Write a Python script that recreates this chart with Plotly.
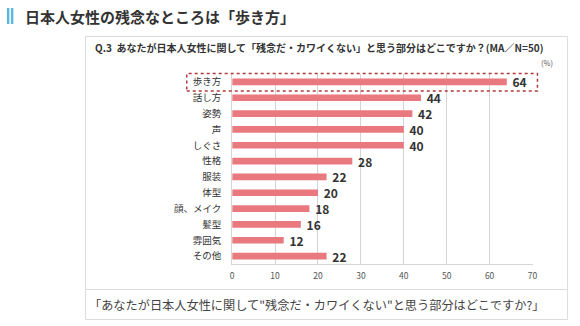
import plotly.graph_objects as go

categories = ["歩き方", "話し方", "姿勢", "声", "しぐさ", "性格", "服装", "体型", "顔、メイク", "髪型", "雰囲気", "その他"]
values = [64, 44, 42, 40, 40, 28, 22, 20, 18, 16, 12, 22]
x_ticks = [0, 10, 20, 30, 40, 50, 60, 70]

W, H = 580, 326
FONT = "Noto Sans CJK JP"

def px(x):
    return x / W

def py(y):
    return 1 - y / H

fig = go.Figure()
fig.add_trace(go.Bar(
    x=values, y=categories, orientation="h",
    marker=dict(color="#E9787F", line=dict(width=0)),
    width=0.42,
    texttemplate="\u00a0%{x}", textposition="outside",
    constraintext="none",
    textfont=dict(family=FONT, size=12, color="#333333", weight="bold"),
    cliponaxis=False, hoverinfo="skip",
))

shapes = []
# title blue bars
shapes.append(dict(type="rect", xref="paper", yref="paper", x0=px(5), x1=px(7.5), y0=py(24), y1=py(8), fillcolor="#5DB6DD", line=dict(width=0)))
shapes.append(dict(type="rect", xref="paper", yref="paper", x0=px(9), x1=px(11.5), y0=py(24), y1=py(8), fillcolor="#5DB6DD", line=dict(width=0)))
# chart box
shapes.append(dict(type="rect", xref="paper", yref="paper", x0=px(84.5), x1=px(572.5), y0=py(319.5), y1=py(36.5), line=dict(color="#dcdcdc", width=1), layer="below"))
shapes.append(dict(type="line", xref="paper", yref="paper", x0=px(84.5), x1=px(572.5), y0=py(289.5), y1=py(289.5), line=dict(color="#dcdcdc", width=1)))
# highlight dotted box
shapes.append(dict(type="rect", xref="paper", yref="paper", x0=px(187), x1=px(542), y0=py(91), y1=py(73.5), line=dict(color="#B03A3A", width=1.5, dash="dot")))

annotations = [
    dict(text="<b>日本人女性の残念なところは「歩き方」</b>", xref="paper", yref="paper", x=px(21), y=py(16), xanchor="left", yanchor="middle", showarrow=False, font=dict(family=FONT, size=15, color="#333333")),
    dict(text="<b>Q.3  あなたが日本人女性に関して「残念だ・カワイくない」と思う部分はどこですか？(MA／N=50)</b>", xref="paper", yref="paper", x=px(92), y=py(47), xanchor="left", yanchor="middle", showarrow=False, font=dict(family=FONT, size=10, color="#333333")),
    dict(text="(%)", xref="paper", yref="paper", x=px(560), y=py(62), xanchor="right", yanchor="middle", showarrow=False, font=dict(family=FONT, size=7.5, color="#555555")),
    dict(text="「あなたが日本人女性に関して\"残念だ・カワイくない\"と思う部分はどこですか?」", xref="paper", yref="paper", x=px(86), y=py(305), xanchor="left", yanchor="middle", showarrow=False, font=dict(family=FONT, size=12.2, color="#444444")),
]

fig.update_layout(
    width=W, height=H, autosize=False,
    margin=dict(l=0, r=0, t=0, b=0),
    paper_bgcolor="white", plot_bgcolor="white",
    showlegend=False,
    shapes=shapes, annotations=annotations,
    font=dict(family=FONT),
    xaxis=dict(domain=[px(233), px(537)], range=[0, 70], tickvals=x_ticks,
               showgrid=True, gridcolor="#d4d4d4", gridwidth=1,
               showline=True, linecolor="#d4d4d4", mirror=False,
               zeroline=False, ticks="", tickfont=dict(family=FONT, size=8.5, color="#555555"),
               ticklabelstandoff=4, fixedrange=True),
    yaxis=dict(domain=[py(264), py(74)], autorange="reversed", type="category",
               showgrid=False, showline=True, linecolor="#d4d4d4", ticks="",
               tickfont=dict(family=FONT, size=9.5, color="#333333"),
               ticklabelstandoff=8, fixedrange=True),
)

fig.write_html("out.html")
